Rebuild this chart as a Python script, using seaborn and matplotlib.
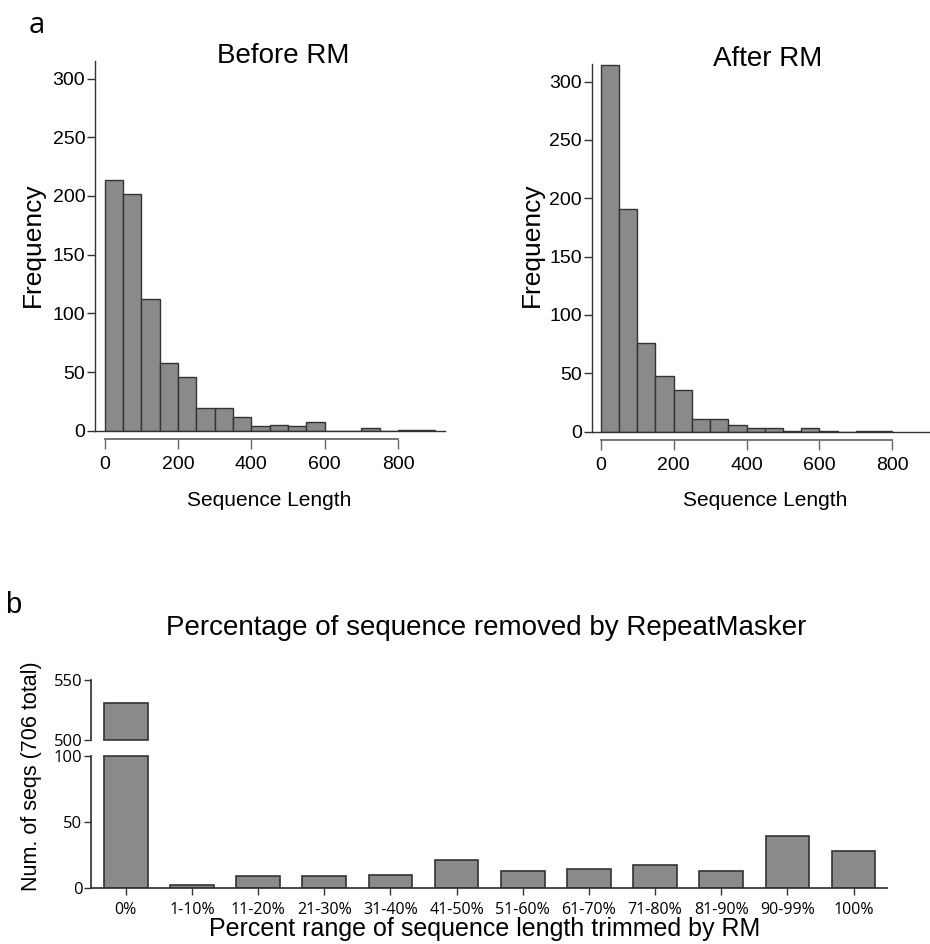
import numpy as np
import pandas as pd
import matplotlib
matplotlib.use("Agg")
import matplotlib.pyplot as plt
import seaborn as sns

# ---------------- data ----------------
bin_width = 50
before_bin_start = [0, 50, 100, 150, 200, 250, 300, 350, 400, 450, 500, 550,
                    600, 650, 700, 750, 800, 850]
before_counts = [214, 202, 112, 58, 46, 19, 19, 12, 4, 5, 4, 7, 0, 0, 2, 0, 1, 1]

after_bin_start = [0, 50, 100, 150, 200, 250, 300, 350, 400, 450, 500, 550,
                   600, 650, 700, 750]
after_counts = [314, 191, 76, 48, 36, 11, 11, 6, 3, 3, 1, 3, 1, 0, 1, 1]

hist_xticks = [0, 200, 400, 600, 800]
hist_yticks = [0, 50, 100, 150, 200, 250, 300]

pct_categories = ["0%", "1-10%", "11-20%", "21-30%", "31-40%", "41-50%",
                  "51-60%", "61-70%", "71-80%", "81-90%", "90-99%", "100%"]
pct_counts = [531, 2, 9, 9, 10, 21, 13, 14, 17, 13, 39, 28]

# ---------------- style ----------------
sns.set_theme(style="ticks")
plt.rcParams["font.family"] = ["Liberation Sans", "DejaVu Sans"]
plt.rcParams["text.color"] = "black"
plt.rcParams["axes.labelcolor"] = "black"
plt.rcParams["xtick.color"] = "black"
plt.rcParams["ytick.color"] = "black"
plt.rcParams["xtick.labelcolor"] = "black"
plt.rcParams["ytick.labelcolor"] = "black"

W, H = 930, 944
fig = plt.figure(figsize=(W / 100, H / 100), dpi=100)


def px_axes(left, top, right, bottom):
    return fig.add_axes([left / W, 1 - bottom / H, (right - left) / W, (bottom - top) / H])


BAR_FC = "#8a8a8a"
BAR_EC = "#333333"
AX_C = "#333333"


def hist_panel(rect, starts, counts, xlim, title, title_x, ylab_x, xlab_x):
    ax = px_axes(*rect)
    starts = np.asarray(starts, dtype=float)
    edges = list(starts) + [starts[-1] + bin_width]
    df = pd.DataFrame({"x": starts + bin_width / 2, "w": counts})
    sns.histplot(data=df, x="x", weights="w", bins=edges, ax=ax,
                 color=BAR_FC, edgecolor=BAR_EC, linewidth=1.0, alpha=1.0)
    ax.set_xlim(*xlim)
    ax.set_ylim(0, 315)
    ax.set_yticks(hist_yticks)
    ax.tick_params(axis="y", length=6, width=1, labelsize=14, pad=1, color=AX_C)
    ax.tick_params(axis="x", bottom=False, labelbottom=False)
    ax.set_xlabel("")
    ax.set_ylabel("")
    for s in ["top", "right"]:
        ax.spines[s].set_visible(False)
    for s in ["left", "bottom"]:
        ax.spines[s].set_color(AX_C)
        ax.spines[s].set_linewidth(1.0)
    sec = ax.secondary_xaxis(-0.0225)
    sec.set_xticks(hist_xticks)
    sec.spines["bottom"].set_bounds(hist_xticks[0], hist_xticks[-1])
    sec.spines["bottom"].set_color("#666666")
    sec.tick_params(length=7, width=1, labelsize=14, pad=5, color="#666666")
    ax.set_title(title, fontsize=20, x=title_x, y=1.0, pad=-1.5)
    fig.text(ylab_x / W, 1 - 245 / H, "Frequency", rotation=90, ha="center",
             va="center", fontsize=19)
    fig.text(xlab_x / W, 1 - 500 / H, "Sequence Length", ha="center",
             va="center", fontsize=15)
    return ax


hist_panel((95, 61, 445, 430.7), before_bin_start, before_counts,
           (-26, 928), "Before RM", 0.537, 33, 269)
hist_panel((591.7, 64, 929.5, 431.7), after_bin_start, after_counts,
           (-25, 902), "After RM", 0.52, 532, 765)

# ---------------- panel b (broken axis bar chart) ----------------
ax_top = px_axes(90.7, 680, 886.7, 740.3)
ax_bot = px_axes(90.7, 756, 886.7, 887.7)
bdf = pd.DataFrame({"cat": pct_categories, "n": pct_counts})
for ax in (ax_top, ax_bot):
    sns.barplot(data=bdf, x="cat", y="n", ax=ax, color=BAR_FC, saturation=1,
                edgecolor=BAR_EC, linewidth=1.2, width=0.66)
    ax.set_xlim(-0.53, 11.5)
    ax.set_xlabel("")
    ax.set_ylabel("")
    ax.spines["right"].set_visible(False)
    ax.spines["left"].set_color(AX_C)
    ax.tick_params(axis="y", length=5, width=1, labelsize=12, pad=1, color=AX_C)

ax_top.set_ylim(500, 550)
ax_top.set_yticks([500, 550])
ax_top.spines["top"].set_visible(False)
ax_top.spines["bottom"].set_bounds(-0.33, 0.33)
ax_top.spines["bottom"].set_color(BAR_EC)
ax_top.spines["bottom"].set_linewidth(1.2)
ax_top.tick_params(axis="x", bottom=False, labelbottom=False)

ax_bot.set_ylim(0, 100)
ax_bot.set_yticks([0, 50, 100])
ax_bot.spines["top"].set_bounds(-0.33, 0.33)
ax_bot.spines["top"].set_color(BAR_EC)
ax_bot.spines["top"].set_linewidth(1.2)
ax_bot.spines["bottom"].set_color(AX_C)
ax_bot.tick_params(axis="x", length=5, width=1, labelsize=11.5, pad=5, color=AX_C)
for lab in ax_bot.get_xticklabels():
    lab.set_fontfamily("Open Sans")
for ax in (ax_top, ax_bot):
    for lab in ax.get_yticklabels():
        lab.set_fontfamily("Open Sans")

fig.text(486 / W, 1 - 628 / H, "Percentage of sequence removed by RepeatMasker",
         ha="center", va="center", fontsize=20)
fig.text(31 / W, 1 - 776 / H, "Num. of seqs (706 total)", rotation=90,
         ha="center", va="center", fontsize=15.5)
fig.text(485 / W, 1 - 929 / H, "Percent range of sequence length trimmed by RM",
         ha="center", va="center", fontsize=18)

fig.text(29 / W, 1 - 33 / H, "a", fontsize=21, family="Open Sans", va="baseline")
fig.text(5 / W, 1 - 613 / H, "b", fontsize=21, family="Liberation Sans", va="baseline")

fig.savefig("out.png", dpi=100)
